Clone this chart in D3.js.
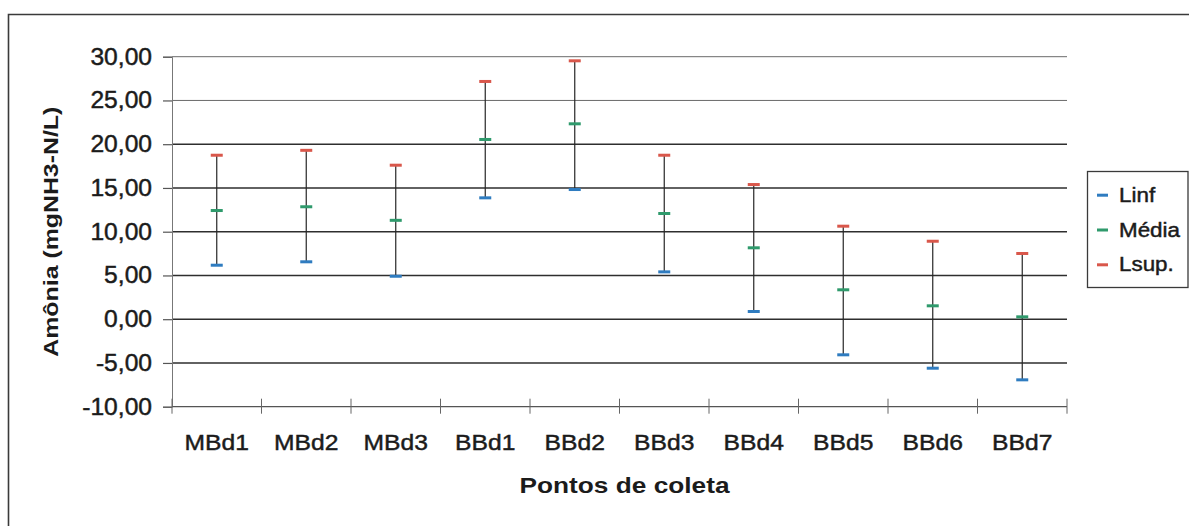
<!DOCTYPE html>
<html>
<head>
<meta charset="utf-8">
<script src="https://cdn.jsdelivr.net/npm/d3@7"></script>
<style>
  body { margin: 0; background: #fff; }
  svg { display: block; }
  text { font-family: "Liberation Sans", Arial, sans-serif; fill: #1b1b1b; }
  .heavy { stroke: #1b1b1b; stroke-width: 0.45px; }
</style>
</head>
<body>
<svg id="chart" width="1189" height="526"></svg>
<script>
// Sampling points and the confidence limits of ammonia at each one
const categories = ["MBd1", "MBd2", "MBd3", "BBd1", "BBd2", "BBd3", "BBd4", "BBd5", "BBd6", "BBd7"];
const linf  = [6.17, 6.56, 4.91, 13.87, 14.82, 5.41, 0.88, -4.07, -5.60, -6.93];
const media = [12.42, 12.85, 11.30, 20.54, 22.33, 12.08, 8.16, 3.36, 1.53, 0.27];
const lsup  = [18.74, 19.30, 17.60, 27.17, 29.53, 18.74, 15.39, 10.63, 8.91, 7.51];
const yTicks = [-10, -5, 0, 5, 10, 15, 20, 25, 30];
const seriesNames = ["Linf", "Média", "Lsup."];
const seriesColors = ["#2f7cc0", "#2f9a6c", "#d9574b"];
const yTitle = "Amônia (mgNH3-N/L)";
const xTitle = "Pontos de coleta";

const svg = d3.select("#chart");
const plot = { left: 172, right: 1067, top: 56.7, bottom: 406.7 };

const x = d3.scaleBand().domain(categories).range([plot.left, plot.right]);
const y = d3.scaleLinear().domain([-10, 30]).range([plot.bottom, plot.top]);

const pt = d3.formatLocale({ decimal: ",", thousands: ".", grouping: [3], currency: ["R$", ""], minus: "-" });
const fmt = pt.format(".2f");

// widen glyphs slightly, as the printed labels run wide
function stretch(sel, k) {
  sel.each(function () {
    const w = this.getComputedTextLength();
    this.setAttribute("textLength", w * k);
    this.setAttribute("lengthAdjust", "spacingAndGlyphs");
  });
}

// outer frame
svg.append("path")
  .attr("d", "M8.5,540 V14.5 H1200")
  .attr("fill", "none").attr("stroke", "#3a3a3a").attr("stroke-width", 1.6);

// horizontal gridlines
svg.append("g").selectAll("line").data(yTicks.filter(d => d !== -10)).join("line")
  .attr("x1", plot.left).attr("x2", plot.right)
  .attr("y1", d => y(d)).attr("y2", d => y(d))
  .attr("stroke", d => d >= 25 ? "#6a6a6a" : "#2e2e2e")
  .attr("stroke-width", d => d >= 25 ? 1 : 1.4);

// y axis
const yAxis = svg.append("g")
  .attr("transform", `translate(${plot.left},0)`)
  .call(d3.axisLeft(y).tickValues(yTicks).tickFormat(fmt).tickSize(9).tickPadding(11));
yAxis.select(".domain").attr("stroke", "#777").attr("stroke-width", 1);
yAxis.selectAll(".tick line").attr("stroke", "#555").attr("stroke-width", 1.2);
yAxis.selectAll(".tick text")
  .attr("font-size", 23).attr("fill", "#1b1b1b").attr("class", "heavy")
  .style("font-family", '"Liberation Sans", Arial, sans-serif')
  .call(stretch, 1.07);

// x axis: baseline plus boundary ticks between categories
svg.append("line")
  .attr("x1", plot.left).attr("x2", plot.right)
  .attr("y1", plot.bottom).attr("y2", plot.bottom)
  .attr("stroke", "#555").attr("stroke-width", 1.2);
const bounds = categories.map(c => x(c)).concat([x(categories[categories.length - 1]) + x.step()]);
svg.append("g").selectAll("line").data(bounds).join("line")
  .attr("x1", d => d).attr("x2", d => d)
  .attr("y1", plot.bottom - 8).attr("y2", plot.bottom + 7)
  .attr("stroke", "#666").attr("stroke-width", 1);

const xAxis = svg.append("g")
  .attr("transform", `translate(0,${plot.bottom})`)
  .call(d3.axisBottom(x).tickSize(0).tickPadding(28));
xAxis.select(".domain").remove();
xAxis.selectAll(".tick text")
  .attr("font-size", 22).attr("fill", "#1b1b1b").attr("class", "heavy")
  .style("font-family", '"Liberation Sans", Arial, sans-serif')
  .call(stretch, 1.12);

// error bars: vertical span from lower to upper limit
const cx = c => x(c) + x.bandwidth() / 2;
svg.append("g").selectAll("line").data(categories).join("line")
  .attr("x1", cx).attr("x2", cx)
  .attr("y1", (c, i) => y(linf[i])).attr("y2", (c, i) => y(lsup[i]))
  .attr("stroke", "#262626").attr("stroke-width", 1.2);

// dash markers for each series
const series = [linf, media, lsup];
series.forEach((vals, s) => {
  svg.append("g").selectAll("rect").data(categories).join("rect")
    .attr("x", c => cx(c) - 6)
    .attr("y", (c, i) => y(vals[i]) - 1.5)
    .attr("width", 12).attr("height", 3)
    .attr("fill", seriesColors[s]);
});

// axis titles
svg.append("text")
  .attr("transform", `translate(58,${(plot.top + plot.bottom) / 2}) rotate(-90)`)
  .attr("text-anchor", "middle")
  .attr("font-size", 20).attr("font-weight", "bold")
  .text(yTitle)
  .attr("textLength", 250).attr("lengthAdjust", "spacingAndGlyphs");

svg.append("text")
  .attr("x", (plot.left + plot.right) / 2 + 5).attr("y", 492.7)
  .attr("text-anchor", "middle")
  .attr("font-size", 22).attr("font-weight", "bold")
  .text(xTitle)
  .attr("textLength", 210).attr("lengthAdjust", "spacingAndGlyphs");

// legend
const lg = svg.append("g");
lg.append("rect")
  .attr("x", 1087.5).attr("y", 171.5).attr("width", 100.5).attr("height", 116)
  .attr("fill", "#fff").attr("stroke", "#3a3a3a").attr("stroke-width", 1.3);
seriesNames.forEach((name, i) => {
  const base = 201.7 + i * 34.8;
  lg.append("rect")
    .attr("x", 1097).attr("y", base - 8).attr("width", 11).attr("height", 3)
    .attr("fill", seriesColors[i]);
  lg.append("text")
    .attr("x", 1119).attr("y", base)
    .attr("font-size", 20).attr("class", "heavy")
    .text(name)
    .call(stretch, 1.12);
});
</script>
</body>
</html>
